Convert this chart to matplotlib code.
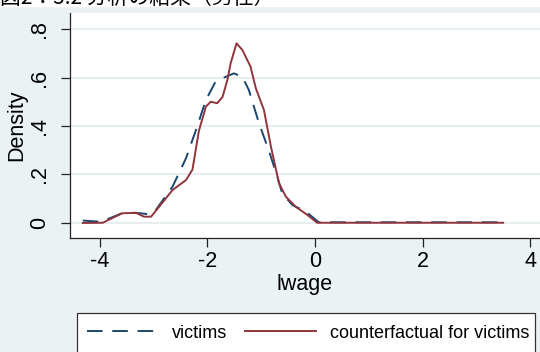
import matplotlib.pyplot as plt
from matplotlib.patches import Rectangle
import numpy as np

# kernel density curves
x_vic = [-4.32, -3.98, -3.59, -3.33, -3.09, -2.96, -2.65, -2.40, -2.22, -2.03, -1.85,
         -1.66, -1.51, -1.35, -1.23, -1.04, -0.86, -0.70, -0.61, -0.42, -0.17, 0.07, 3.5]
y_vic = [0.010, 0.005, 0.040, 0.042, 0.036, 0.054, 0.150, 0.267, 0.380, 0.507, 0.583,
         0.603, 0.617, 0.603, 0.548, 0.410, 0.300, 0.190, 0.122, 0.074, 0.047, 0.003, 0.003]

x_cf = [-4.32, -3.95, -3.59, -3.33, -3.18, -3.05, -2.90, -2.65, -2.40, -2.28, -2.16, -2.03,
        -1.94, -1.82, -1.72, -1.63, -1.57, -1.46, -1.35, -1.20, -1.10, -0.95, -0.82, -0.67,
        -0.54, -0.36, -0.14, 0.04, 3.5]
y_cf = [0.000, 0.001, 0.040, 0.042, 0.026, 0.026, 0.067, 0.136, 0.177, 0.220, 0.380, 0.480,
        0.500, 0.494, 0.520, 0.590, 0.658, 0.741, 0.713, 0.645, 0.555, 0.466, 0.315, 0.164,
        0.108, 0.067, 0.033, 0.001, 0.001]

xticks = [-4, -2, 0, 2, 4]
yticks = [0, 0.2, 0.4, 0.6, 0.8]
ylabels = ["0", ".2", ".4", ".6", ".8"]
labels = ["victims", "counterfactual for victims"]
title = "図2：5.2 分析の結果（男性）"

bg = "#eaf2f3"
navy = "#1a476f"
maroon = "#90353b"

plt.rcParams['font.family'] = ['Liberation Sans', 'DejaVu Sans']

W, H = 540, 352
fig = plt.figure(figsize=(W / 100, H / 100), dpi=100, facecolor=bg)

# white strip with the clipped title at the very top
fig.patches.append(Rectangle((0, 1 - 7 / H), 1, 7 / H, transform=fig.transFigure,
                             facecolor="white", edgecolor="none", zorder=0))
fig.text(0.0, 1 - 4 / H, title, fontsize=15, va="baseline", ha="left",
         family=["Noto Sans CJK JP", "DejaVu Sans"])

ax = fig.add_axes([70 / W, 1 - 238 / H, 470 / W, 225 / H])
ax.set_facecolor("white")

ax.plot(x_vic, y_vic, color=navy, lw=1.4, linestyle=(0, (8, 5)), label=labels[0])
ax.plot(x_cf, y_cf, color=maroon, lw=1.4, label=labels[1])

ax.set_xlim(-4.558, 4.186)
ax.set_ylim(-0.0619, 0.866)

ax.set_xticks(xticks)
ax.set_xticklabels([str(t) for t in xticks])
ax.set_yticks(yticks)
ax.set_yticklabels(ylabels, rotation=90, va="center")
ax.grid(axis="y", color="#e3ebee", lw=1.2)
ax.set_axisbelow(True)

for s in ["top", "right"]:
    ax.spines[s].set_visible(False)
for s in ["left", "bottom"]:
    ax.spines[s].set_color("#222222")
    ax.spines[s].set_linewidth(0.9)

ax.tick_params(axis="both", labelsize=15.5, length=6.5, width=0.9, color="#222222")
ax.tick_params(axis="y", pad=8)
ax.tick_params(axis="x", pad=3)

ax.set_xlabel("lwage", fontsize=15.5, labelpad=1)
ax.set_ylabel("Density", fontsize=15.5)
ax.yaxis.set_label_coords((27 - 70) / 470, (238 - 125) / 225)

# legend box, bottom cut off by the image edge
fig.patches.append(Rectangle((77 / W, -0.05), 458 / W, 1 - 313 / H + 0.05,
                             transform=fig.transFigure, facecolor="white",
                             edgecolor="#333333", lw=0.9, zorder=1))
h, l = ax.get_legend_handles_labels()
fig.legend(h, l, loc="center left", bbox_to_anchor=(87 / W, 1 - 333 / H),
           ncol=2, frameon=False, fontsize=13, handlelength=3.9,
           handletextpad=0.8, columnspacing=1.0, borderpad=0, borderaxespad=0)

fig.savefig("out.png", dpi=100, facecolor=bg)
